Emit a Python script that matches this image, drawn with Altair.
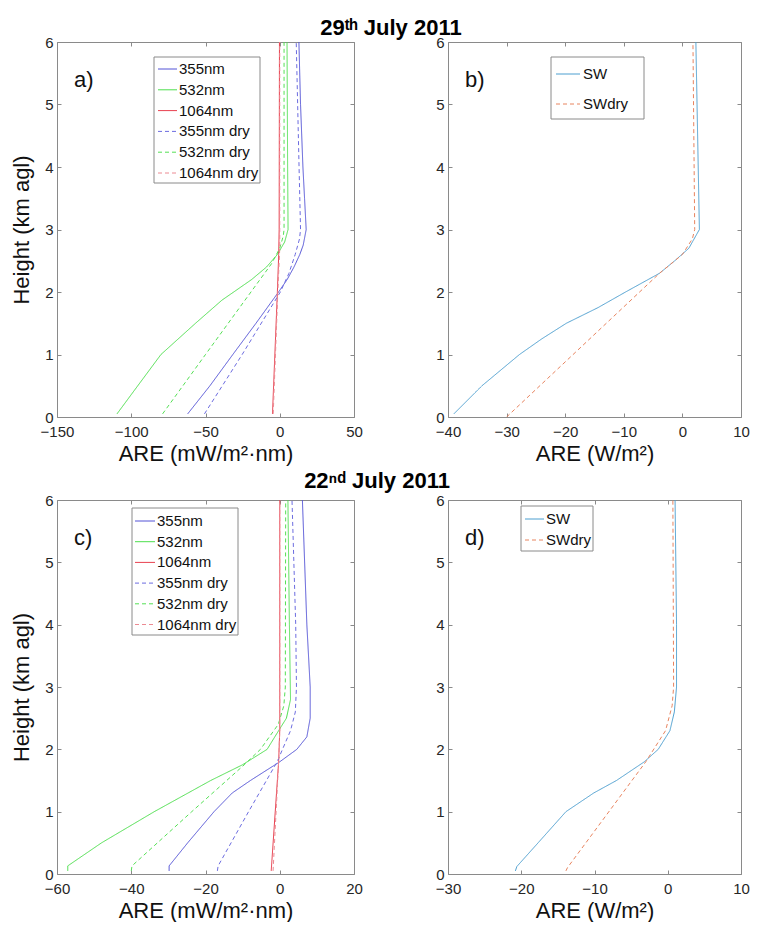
import altair as alt
import pandas as pd

FONT = "Liberation Sans"

# ---------------- Panel a) 29th July 2011, spectral ARE (mW/m2.nm) ----------------
a_names = ["355nm", "532nm", "1064nm", "355nm dry", "532nm dry", "1064nm dry"]
a_h_355 = [0.05, 0.5, 1.0, 1.5, 2.0, 2.2, 2.4, 2.6, 2.75, 3.0, 3.5, 4.0, 5.0, 6.0]
a_x_355 = [-62, -47, -31.6, -16, -0.8, 5.0, 9.6, 13.5, 15.8, 17.8, 16.7, 15.6, 14.0, 12.9]
a_h_532 = [0.05, 0.5, 1.0, 1.5, 1.87, 2.0, 2.2, 2.4, 2.6, 2.8, 3.0, 4.0, 6.0]
a_x_532 = [-109.6, -95.6, -80, -56.7, -38.9, -31, -18.9, -8.9, -1.6, 3.3, 5.6, 5.3, 4.9]
a_h_1064 = [0.05, 2.0, 2.6, 3.0, 6.0]
a_x_1064 = [-4.9, -1.6, -0.7, -0.4, -0.2]
a_h_355d = [0.05, 1.0, 2.0, 2.3, 2.6, 2.85, 3.0, 4.0, 6.0]
a_x_355d = [-50.7, -25.3, 0.4, 6.2, 10.4, 13.3, 14.0, 13.0, 11.1]
a_h_532d = [0.05, 1.0, 2.0, 2.45, 2.7, 2.9, 3.0, 6.0]
a_x_532d = [-78.9, -50, -19.4, -5.6, 0.0, 2.4, 2.9, 2.9]
a_h_1064d = [0.05, 2.0, 2.7, 6.0]
a_x_1064d = [-4.4, -1.3, 0.0, 0.0]

# ---------------- Panel b) 29th July 2011, broadband SW ARE (W/m2) ----------------
b_names = ["SW", "SWdry"]
b_h_sw = [0.05, 0.5, 1.0, 1.25, 1.5, 1.75, 2.0, 2.3, 2.5, 2.7, 3.0, 4.0, 5.0, 6.0]
b_x_sw = [-39, -34.2, -27.8, -24, -19.8, -14.4, -9.7, -3.9, -1.3, 1.1, 2.9, 2.7, 2.5, 2.3]
b_h_swd = [0.0, 2.3, 2.6, 2.85, 3.0, 6.0]
b_x_swd = [-30, -3.9, 0.0, 1.7, 2.1, 1.8]

# ---------------- Panel c) 22nd July 2011, spectral ARE (mW/m2.nm) ----------------
c_h_355 = [0.05, 0.13, 0.5, 1.0, 1.3, 1.5, 1.8, 2.0, 2.2, 2.5, 3.0, 4.0, 6.0]
c_x_355 = [-29.8, -29.8, -24.8, -17.7, -12.8, -7.9, 0.0, 4.6, 7.3, 8.2, 8.2, 7.3, 6.1]
c_h_532 = [0.05, 0.13, 0.5, 1.0, 1.5, 1.75, 2.0, 2.3, 2.5, 2.8, 4.0, 6.0]
c_x_532 = [-57.1, -57.1, -48, -33.8, -18.6, -10.1, -3.4, -0.3, 1.8, 2.9, 2.6, 2.2]
c_h_1064 = [0.05, 1.8, 2.3, 6.0]
c_x_1064 = [-2.3, -0.3, 0.0, 0.0]
c_h_355d = [0.05, 0.13, 1.0, 1.8, 2.3, 2.6, 3.0, 4.0, 6.0]
c_x_355d = [-16.8, -16.6, -8.4, -0.7, 2.9, 4.2, 4.5, 4.3, 3.3]
c_h_532d = [0.05, 0.13, 1.0, 1.75, 2.0, 2.4, 2.7, 3.0, 6.0]
c_x_532d = [-40, -39.8, -23.7, -9.6, -5.2, -0.4, 1.1, 1.5, 1.6]
c_h_1064d = [0.05, 1.8, 2.3, 6.0]
c_x_1064d = [-1.8, -0.3, 0.0, 0.0]

# ---------------- Panel d) 22nd July 2011, broadband SW ARE (W/m2) ----------------
d_h_sw = [0.05, 0.12, 0.5, 1.0, 1.3, 1.5, 1.8, 2.0, 2.3, 2.6, 3.0, 4.0, 6.0]
d_x_sw = [-20.8, -20.6, -17.7, -13.9, -10.1, -7.0, -3.2, -1.3, 0.3, 0.9, 1.2, 1.2, 1.0]
d_h_swd = [0.05, 0.1, 1.8, 2.3, 2.7, 3.0, 6.0]
d_x_swd = [-13.9, -13.7, -3.0, -0.3, 0.6, 0.8, 0.7]

Y_TICKS = [0, 1, 2, 3, 4, 5, 6]
a_ticks = [-150, -100, -50, 0, 50]
b_ticks = [-40, -30, -20, -10, 0, 10]
c_ticks = [-60, -40, -20, 0, 20]
d_ticks = [-30, -20, -10, 0, 10]

spec_colors = ["#5252d6", "#4ddf4d", "#e8404f", "#6c6ce0", "#55e055", "#ec8a92"]
spec_dash = [[1, 0], [1, 0], [1, 0], [4, 3], [4, 3], [4, 3]]
sw_colors = ["#4d9fd0", "#e8845f"]
sw_dash = [[1, 0], [4, 3]]


def long_df(names, pairs):
    rows = []
    for name, (hs, xs) in zip(names, pairs):
        for i, (h, x) in enumerate(zip(hs, xs)):
            rows.append({"series": name, "h": h, "x": x, "order": i})
    return pd.DataFrame(rows)


df_a = long_df(a_names, [(a_h_355, a_x_355), (a_h_532, a_x_532), (a_h_1064, a_x_1064),
                         (a_h_355d, a_x_355d), (a_h_532d, a_x_532d), (a_h_1064d, a_x_1064d)])
df_b = long_df(b_names, [(b_h_sw, b_x_sw), (b_h_swd, b_x_swd)])
df_c = long_df(a_names, [(c_h_355, c_x_355), (c_h_532, c_x_532), (c_h_1064, c_x_1064),
                         (c_h_355d, c_x_355d), (c_h_532d, c_x_532d), (c_h_1064d, c_x_1064d)])
df_d = long_df(b_names, [(d_h_sw, d_x_sw), (d_h_swd, d_x_swd)])

TICK = 4
BOX = "#8a8a8a"


def panel(df, names, colors, dashes, xdom, xticks, xtitle, ytitle, label, leg, w, h,
          xlabpad=7, xtitlepad=4):
    xs = alt.Scale(domain=xdom, nice=False, zero=False)
    ys = alt.Scale(domain=[0, 6], nice=False, zero=False)
    cs = alt.Scale(domain=names, range=colors)
    ds = alt.Scale(domain=names, range=dashes)
    yaxis_kw = dict(orient="left", values=Y_TICKS, offset=-TICK, tickSize=TICK,
                    labelPadding=4, format="d", labelFlush=False)
    if ytitle:
        yaxis_kw.update(title=ytitle, titlePadding=11)
    else:
        yaxis_kw.update(title=None)
    lines = alt.Chart(df).mark_line(strokeWidth=1, clip=True).encode(
        x=alt.X("x:Q", scale=xs, axis=alt.Axis(orient="bottom", values=xticks, title=xtitle,
                                               offset=-TICK, tickSize=TICK, labelPadding=xlabpad,
                                               titlePadding=xtitlepad, format="d", labelFlush=False)),
        y=alt.Y("h:Q", scale=ys, axis=alt.Axis(**yaxis_kw)),
        color=alt.Color("series:N", scale=cs, legend=None),
        strokeDash=alt.StrokeDash("series:N", scale=ds, legend=None),
        order=alt.Order("order:Q"),
    )
    mirror = alt.Chart(df).mark_point(opacity=0).encode(
        x=alt.X("x:Q", scale=xs, axis=alt.Axis(orient="top", values=xticks, title=None, labels=False,
                                               offset=-TICK, tickSize=TICK)),
        y=alt.Y("h:Q", scale=ys, axis=alt.Axis(orient="right", values=Y_TICKS, title=None, labels=False,
                                               offset=-TICK, tickSize=TICK)),
    )
    # legend box drawn inside the axes, MATLAB style
    bx, by, bw, bh, first, step, sx0, sx1, tx = leg
    box = alt.Chart(pd.DataFrame({"k": [0]})).mark_rect(
        fill="white", stroke=BOX, strokeWidth=1
    ).encode(x=alt.value(bx), x2=alt.value(bx + bw), y=alt.value(by), y2=alt.value(by + bh))
    leg_df = pd.DataFrame({"series": names, "ly": [first + i * step for i in range(len(names))]})
    sym = alt.Chart(leg_df).mark_rule(strokeWidth=1).encode(
        x=alt.value(sx0), x2=alt.value(sx1),
        y=alt.Y("ly:Q", scale=None, axis=None),
        color=alt.Color("series:N", scale=cs, legend=None),
        strokeDash=alt.StrokeDash("series:N", scale=ds, legend=None),
    )
    labels = alt.Chart(leg_df).mark_text(
        font=FONT, fontSize=15, align="left", baseline="middle", color="#111"
    ).encode(x=alt.value(tx), y=alt.Y("ly:Q", scale=None, axis=None), text="series:N")
    text = alt.Chart(pd.DataFrame({"t": [label]})).mark_text(
        font=FONT, fontSize=22, align="left", baseline="middle", color="#111"
    ).encode(text="t:N", x=alt.value(17), y=alt.value(38))
    return alt.layer(lines, mirror, box, sym, labels, text).resolve_axis(
        x="independent", y="independent").properties(width=w, height=h)


WL, WR = 297, 293
H1, H2 = 375, 374
#          box x, y, w, h,   first row, step, sym x0, x1, text x
leg_a = (97, 15, 106, 126, 27, 20.8, 101, 120, 122)
leg_b = (103, 15, 93, 62, 32, 30, 108, 132, 135)
leg_c = (75, 8, 106, 127, 21, 20.7, 78, 98, 100)
leg_d = (73, 6, 72, 45, 19, 21, 77, 96, 98)

pa = panel(df_a, a_names, spec_colors, spec_dash, [-150, 50], a_ticks, "ARE (mW/m²·nm)",
           "Height (km agl)", "a)", leg_a, WL, H1)
pb = panel(df_b, b_names, sw_colors, sw_dash, [-40, 10], b_ticks, "ARE (W/m²)",
           None, "b)", leg_b, WR, H1)
pc = panel(df_c, a_names, spec_colors, spec_dash, [-60, 20], c_ticks, "ARE (mW/m²·nm)",
           "Height (km agl)", "c)", leg_c, WL, H2)
pd_ = panel(df_d, b_names, sw_colors, sw_dash, [-30, 10], d_ticks, "ARE (W/m²)",
            None, "d)", leg_d, WR, H2)


def row_title(txt, dx, offset, dy):
    return alt.Title(txt, font=FONT, fontSize=22, fontWeight="bold", color="#000",
                     anchor="middle", offset=offset, dx=dx, dy=dy)


row1 = alt.hconcat(pa, pb, spacing=71).properties(
    title=row_title("29ᵗʰ July 2011", 11, -6, -1)
).resolve_scale(color="independent", strokeDash="independent")
row2 = alt.hconcat(pc, pd_, spacing=71).properties(
    title=row_title("22ⁿᵈ July 2011", -3, -3, -3)
).resolve_scale(color="independent", strokeDash="independent")

chart = alt.vconcat(row1, row2, spacing=4).resolve_scale(
    color="independent", strokeDash="independent"
).properties(
    padding={"left": 2, "top": 8, "right": 0, "bottom": 0}
).configure_axis(
    labelFont=FONT, labelFontSize=15, labelColor="#262626",
    titleFont=FONT, titleFontSize=22, titleFontWeight="normal", titleColor="#111",
    domain=False, grid=False, tickColor=BOX, tickWidth=1,
).configure_view(stroke=BOX, strokeWidth=1)

chart.save("out.html", embed_options={"renderer": "svg", "actions": False})
